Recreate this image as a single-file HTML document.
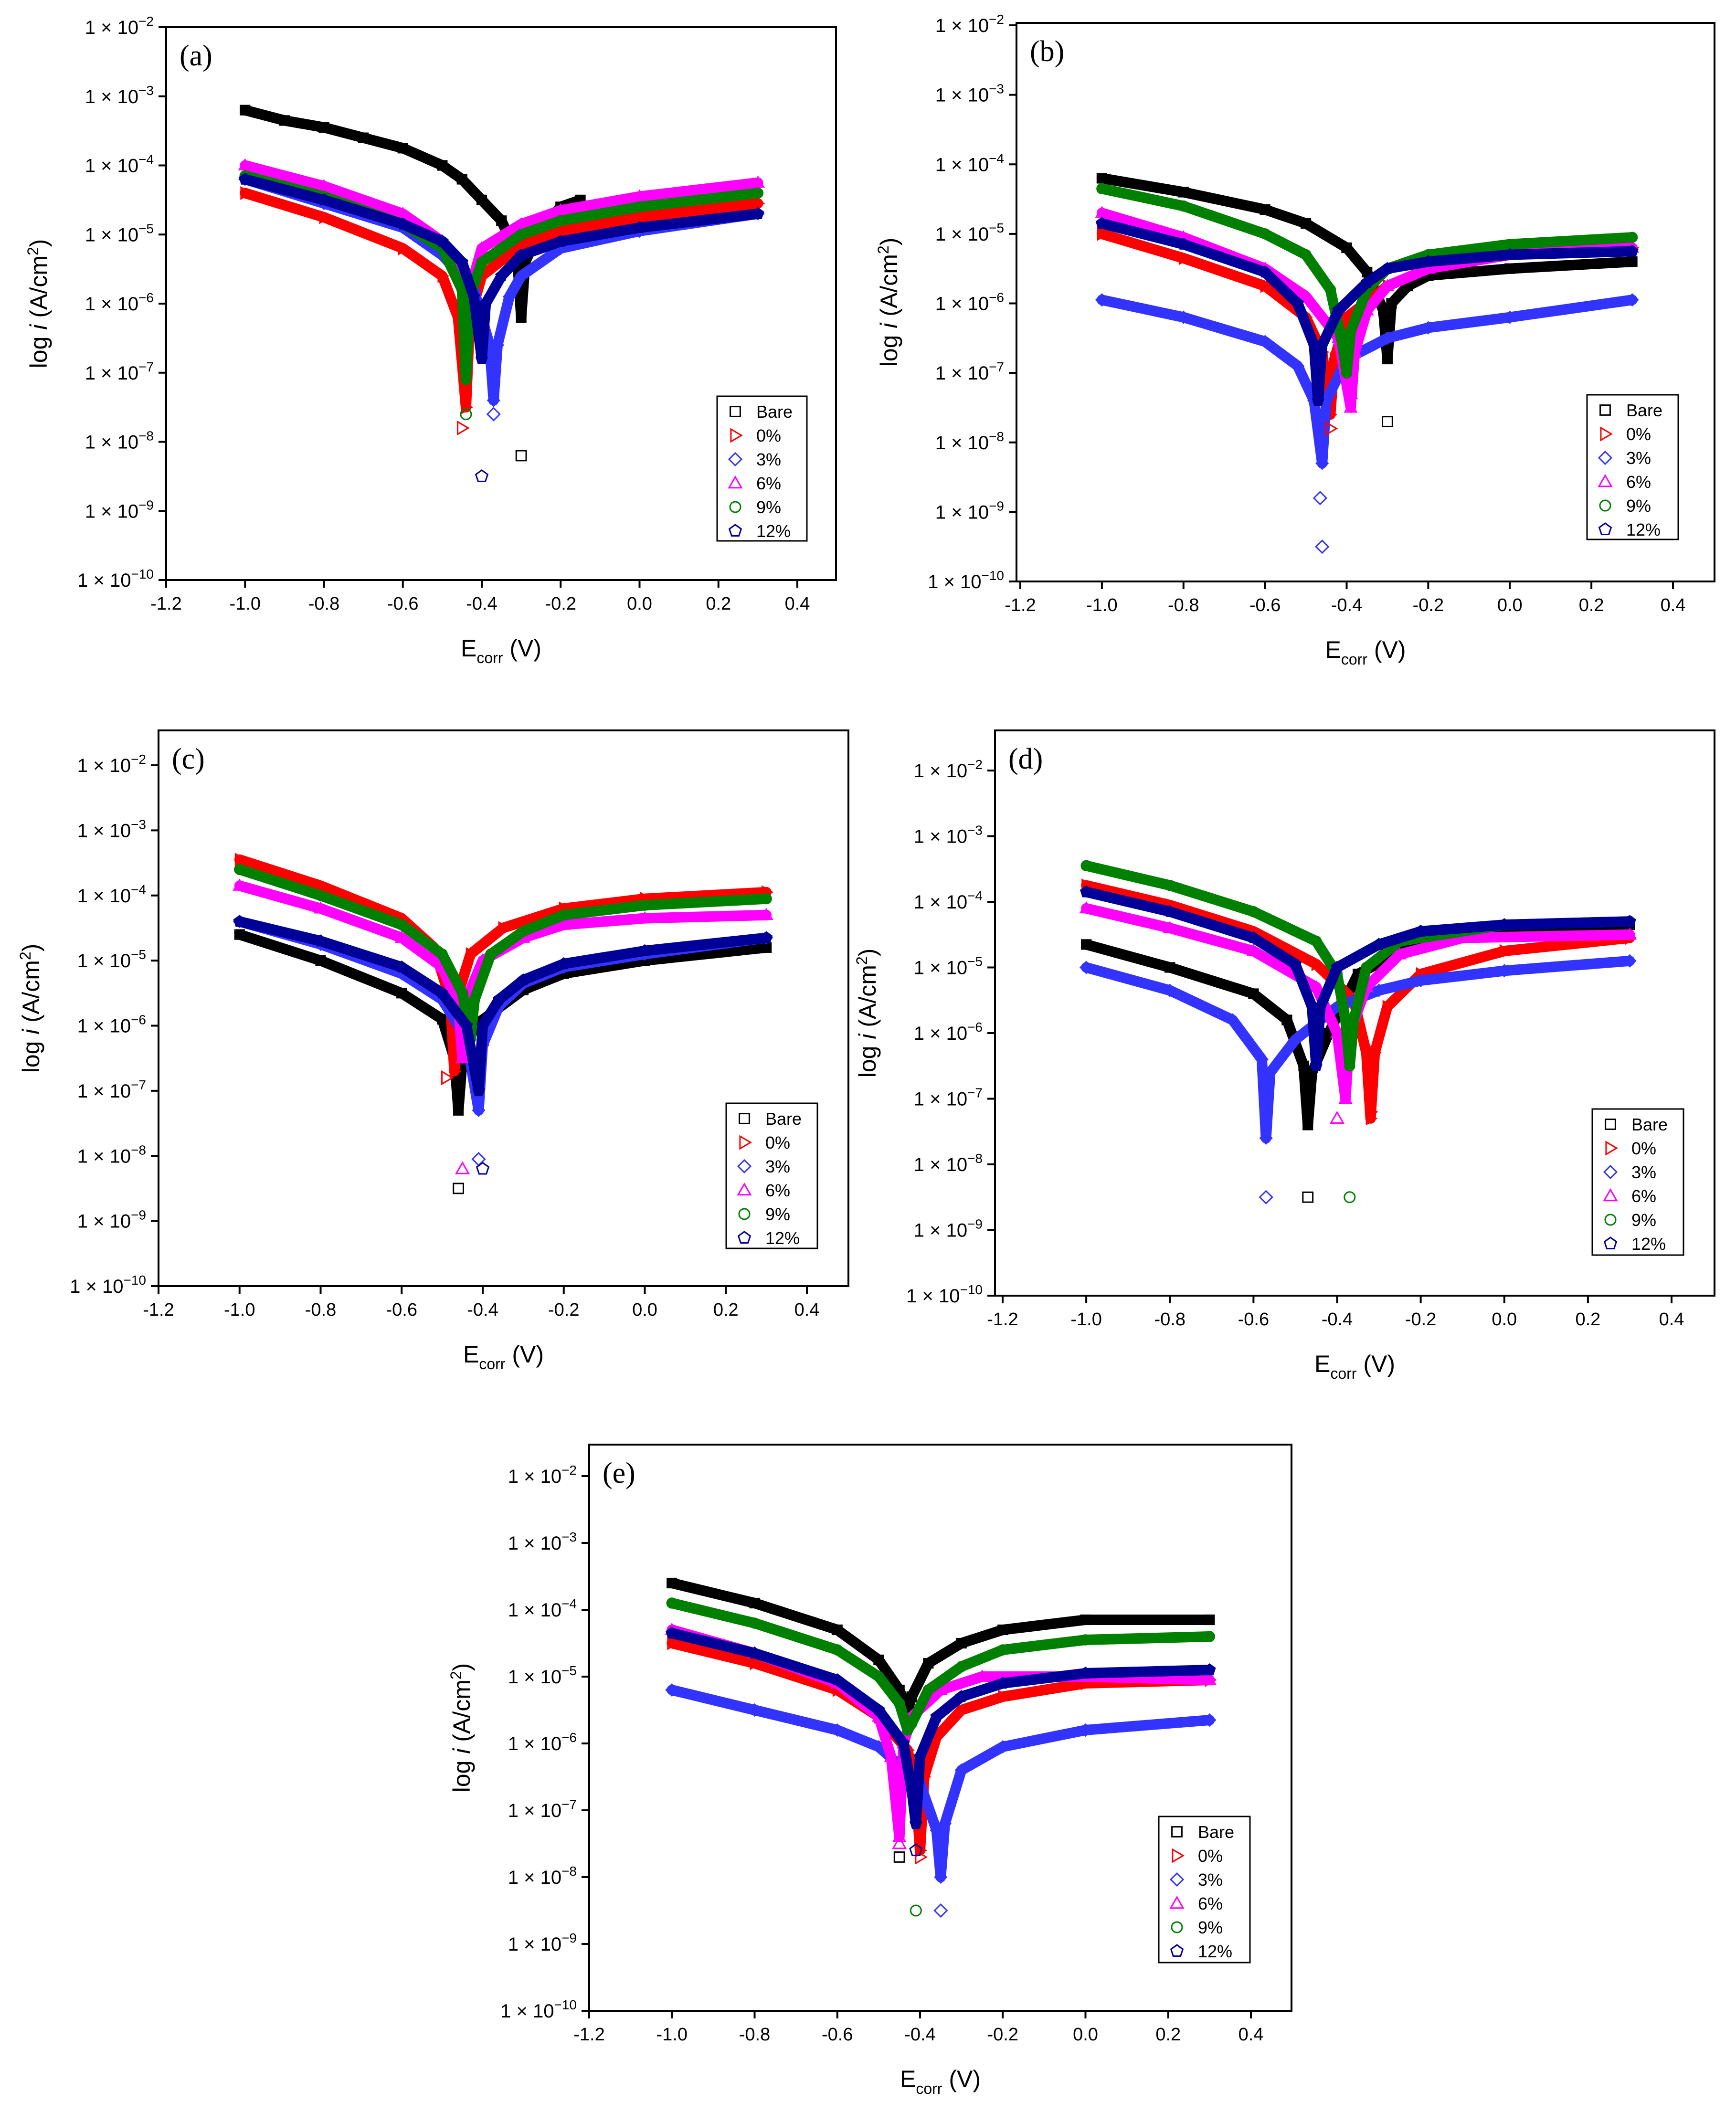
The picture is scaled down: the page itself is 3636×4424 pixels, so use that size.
<!DOCTYPE html>
<html><head><meta charset="utf-8"><style>
html,body{margin:0;padding:0;background:#fff}
svg{display:block}
</style></head><body>
<svg id="fig" width="3636" height="4424" viewBox="0 0 3636 4424" xmlns="http://www.w3.org/2000/svg"></svg>
<script>
// ---------- data (E in V, log10 i) ----------
const seriesNames = ["Bare","0%","3%","6%","9%","12%"];
const panelLabels = ["(a)","(b)","(c)","(d)","(e)"];
const xTickLabels = ["-1.2","-1.0","-0.8","-0.6","-0.4","-0.2","0.0","0.2","0.4"];
const xTickValues = [-1.2,-1.0,-0.8,-0.6,-0.4,-0.2,0.0,0.2,0.4];
const yTickExps = [-2,-3,-4,-5,-6,-7,-8,-9,-10];

const aBare=[[-1,-3.2],[-0.9,-3.35],[-0.8,-3.45],[-0.7,-3.6],[-0.6,-3.75],[-0.5,-4.0],[-0.45,-4.2],[-0.4,-4.5],[-0.35,-4.8],[-0.31,-5.3],[-0.3,-6.2],[-0.29,-5.4],[-0.25,-4.9],[-0.2,-4.6],[-0.15,-4.5]];
const a0=[[-1,-4.4],[-0.8,-4.75],[-0.6,-5.2],[-0.5,-5.6],[-0.46,-6.2],[-0.44,-7.5],[-0.43,-6.2],[-0.4,-5.6],[-0.3,-5.15],[-0.2,-4.95],[0,-4.75],[0.3,-4.55]];
const a3=[[-1,-4.2],[-0.8,-4.55],[-0.6,-4.9],[-0.5,-5.3],[-0.42,-5.8],[-0.38,-6.6],[-0.37,-7.4],[-0.36,-6.6],[-0.33,-5.9],[-0.3,-5.6],[-0.2,-5.2],[0,-4.95],[0.3,-4.7]];
const a6=[[-1,-4.0],[-0.8,-4.3],[-0.6,-4.7],[-0.5,-5.1],[-0.45,-5.7],[-0.44,-6.6],[-0.43,-5.8],[-0.4,-5.2],[-0.3,-4.85],[-0.2,-4.65],[0,-4.45],[0.3,-4.25]];
const a9=[[-1,-4.15],[-0.8,-4.45],[-0.6,-4.85],[-0.5,-5.2],[-0.45,-5.8],[-0.44,-7.1],[-0.43,-5.9],[-0.4,-5.4],[-0.3,-5.0],[-0.2,-4.8],[0,-4.6],[0.3,-4.4]];
const a12=[[-1,-4.2],[-0.8,-4.5],[-0.6,-4.85],[-0.5,-5.1],[-0.45,-5.4],[-0.42,-5.9],[-0.4,-6.8],[-0.39,-6.0],[-0.35,-5.6],[-0.3,-5.3],[-0.2,-5.1],[0,-4.9],[0.3,-4.7]];
const aOut=[[0,-0.3,-8.2],[1,-0.45,-7.8],[2,-0.37,-7.6],[4,-0.44,-7.6],[5,-0.4,-8.5]];

const bBare=[[-1,-4.2],[-0.8,-4.4],[-0.6,-4.65],[-0.5,-4.85],[-0.4,-5.2],[-0.35,-5.55],[-0.31,-6.1],[-0.3,-6.8],[-0.29,-6.0],[-0.25,-5.75],[-0.2,-5.6],[0,-5.5],[0.3,-5.4]];
const b0=[[-1,-5.0],[-0.8,-5.35],[-0.6,-5.75],[-0.5,-6.2],[-0.46,-6.7],[-0.44,-7.6],[-0.43,-6.8],[-0.4,-6.2],[-0.3,-5.75],[-0.2,-5.5],[0,-5.3],[0.3,-5.2]];
const b3=[[-1,-5.95],[-0.8,-6.2],[-0.6,-6.55],[-0.52,-6.9],[-0.48,-7.4],[-0.46,-8.3],[-0.45,-7.4],[-0.4,-6.8],[-0.3,-6.5],[-0.2,-6.35],[0,-6.2],[0.3,-5.95]];
const b6=[[-1,-4.7],[-0.8,-5.05],[-0.6,-5.5],[-0.5,-5.9],[-0.42,-6.5],[-0.39,-7.5],[-0.38,-6.7],[-0.35,-6.1],[-0.3,-5.75],[-0.2,-5.5],[0,-5.3],[0.3,-5.2]];
const b9=[[-1,-4.35],[-0.8,-4.6],[-0.6,-5.0],[-0.5,-5.3],[-0.44,-5.8],[-0.41,-6.6],[-0.40,-7.0],[-0.39,-6.4],[-0.35,-5.8],[-0.3,-5.5],[-0.2,-5.3],[0,-5.15],[0.3,-5.05]];
const b12=[[-1,-4.85],[-0.8,-5.15],[-0.6,-5.55],[-0.52,-6.0],[-0.48,-6.6],[-0.47,-7.4],[-0.46,-6.6],[-0.42,-6.1],[-0.35,-5.7],[-0.3,-5.5],[-0.2,-5.4],[0,-5.3],[0.3,-5.25]];
const bOut=[[0,-0.3,-7.7],[2,-0.46,-9.5],[2,-0.465,-8.8],[1,-0.44,-7.8],[3,-0.39,-7.3]];

const cBare=[[-1,-4.6],[-0.8,-5.0],[-0.6,-5.5],[-0.5,-5.9],[-0.47,-6.5],[-0.46,-7.3],[-0.45,-6.5],[-0.42,-6.0],[-0.3,-5.45],[-0.2,-5.2],[0,-5.0],[0.3,-4.8]];
const c0=[[-1,-3.45],[-0.8,-3.85],[-0.6,-4.35],[-0.52,-4.8],[-0.48,-5.6],[-0.47,-6.7],[-0.46,-5.5],[-0.43,-4.9],[-0.35,-4.5],[-0.2,-4.2],[0,-4.05],[0.3,-3.95]];
const c3=[[-1,-4.4],[-0.8,-4.75],[-0.6,-5.2],[-0.5,-5.6],[-0.44,-6.2],[-0.41,-7.3],[-0.40,-6.3],[-0.36,-5.7],[-0.3,-5.35],[-0.2,-5.1],[0,-4.9],[0.3,-4.65]];
const c6=[[-1,-3.85],[-0.8,-4.2],[-0.6,-4.65],[-0.5,-5.1],[-0.46,-5.7],[-0.45,-6.5],[-0.44,-5.6],[-0.4,-5.0],[-0.3,-4.65],[-0.2,-4.45],[0,-4.35],[0.3,-4.3]];
const c9=[[-1,-3.6],[-0.8,-4.0],[-0.6,-4.45],[-0.5,-4.9],[-0.45,-5.5],[-0.43,-6.2],[-0.42,-5.6],[-0.38,-4.9],[-0.3,-4.55],[-0.2,-4.3],[0,-4.15],[0.3,-4.05]];
const c12=[[-1,-4.4],[-0.8,-4.7],[-0.6,-5.1],[-0.5,-5.5],[-0.44,-6.0],[-0.41,-7.0],[-0.40,-6.0],[-0.36,-5.6],[-0.3,-5.3],[-0.2,-5.05],[0,-4.85],[0.3,-4.65]];
const cOut=[[0,-0.46,-8.5],[2,-0.41,-8.05],[3,-0.45,-8.2],[5,-0.40,-8.2],[1,-0.49,-6.8]];

const dBare=[[-1,-4.65],[-0.8,-5.0],[-0.6,-5.4],[-0.52,-5.8],[-0.48,-6.5],[-0.47,-7.4],[-0.46,-6.6],[-0.42,-6.0],[-0.35,-5.1],[-0.2,-4.6],[0,-4.4],[0.3,-4.35]];
const d0=[[-1,-3.75],[-0.8,-4.05],[-0.6,-4.45],[-0.45,-4.95],[-0.36,-5.5],[-0.33,-6.3],[-0.32,-7.3],[-0.31,-6.3],[-0.28,-5.6],[-0.2,-5.1],[0,-4.75],[0.3,-4.55]];
const d3=[[-1,-5.0],[-0.8,-5.35],[-0.65,-5.8],[-0.58,-6.4],[-0.57,-7.6],[-0.56,-6.6],[-0.5,-6.1],[-0.4,-5.6],[-0.3,-5.35],[-0.2,-5.2],[0,-5.05],[0.3,-4.9]];
const d6=[[-1,-4.1],[-0.8,-4.4],[-0.6,-4.75],[-0.45,-5.3],[-0.40,-6.0],[-0.38,-7.0],[-0.37,-6.0],[-0.33,-5.3],[-0.25,-4.8],[-0.1,-4.55],[0.3,-4.5]];
const d9=[[-1,-3.45],[-0.8,-3.75],[-0.6,-4.15],[-0.45,-4.6],[-0.4,-5.1],[-0.38,-5.8],[-0.37,-6.5],[-0.36,-5.8],[-0.33,-5.0],[-0.25,-4.6],[0,-4.35],[0.3,-4.3]];
const d12=[[-1,-3.85],[-0.8,-4.15],[-0.6,-4.55],[-0.5,-4.95],[-0.46,-5.6],[-0.45,-6.5],[-0.44,-5.6],[-0.4,-5.0],[-0.3,-4.65],[-0.2,-4.45],[0,-4.35],[0.3,-4.3]];
const dOut=[[0,-0.47,-8.5],[2,-0.57,-8.5],[4,-0.37,-8.5],[1,-0.32,-7.2],[3,-0.40,-7.3]];

const eBare=[[-1,-3.6],[-0.8,-3.9],[-0.6,-4.3],[-0.5,-4.75],[-0.45,-5.2],[-0.43,-5.5],[-0.42,-5.3],[-0.38,-4.8],[-0.3,-4.5],[-0.2,-4.3],[0,-4.15],[0.3,-4.15]];
const e0=[[-1,-4.5],[-0.8,-4.8],[-0.6,-5.2],[-0.5,-5.6],[-0.43,-6.1],[-0.41,-6.7],[-0.40,-7.6],[-0.39,-6.5],[-0.36,-5.9],[-0.3,-5.5],[-0.2,-5.3],[0,-5.1],[0.3,-5.05]];
const e3=[[-1,-5.2],[-0.8,-5.5],[-0.6,-5.8],[-0.5,-6.05],[-0.4,-6.6],[-0.36,-7.3],[-0.35,-8.0],[-0.34,-7.2],[-0.3,-6.4],[-0.2,-6.05],[0,-5.8],[0.3,-5.65]];
const e6=[[-1,-4.3],[-0.8,-4.65],[-0.6,-5.1],[-0.5,-5.6],[-0.47,-6.2],[-0.45,-7.4],[-0.44,-6.0],[-0.42,-5.6],[-0.35,-5.2],[-0.25,-5.0],[0,-5.0],[0.3,-5.05]];
const e9=[[-1,-3.9],[-0.8,-4.2],[-0.6,-4.6],[-0.5,-5.0],[-0.45,-5.4],[-0.43,-5.8],[-0.42,-5.7],[-0.38,-5.2],[-0.3,-4.85],[-0.2,-4.6],[0,-4.45],[0.3,-4.4]];
const e12=[[-1,-4.35],[-0.8,-4.65],[-0.6,-5.05],[-0.5,-5.5],[-0.44,-6.0],[-0.42,-6.7],[-0.41,-7.2],[-0.40,-6.2],[-0.36,-5.6],[-0.3,-5.3],[-0.2,-5.1],[0,-4.95],[0.3,-4.9]];
const eOut=[[0,-0.45,-7.7],[4,-0.41,-8.5],[2,-0.35,-8.5],[1,-0.40,-7.7],[5,-0.41,-7.6],[3,-0.45,-7.5]];

const panelSeries=[[aBare,a0,a3,a6,a9,a12],[bBare,b0,b3,b6,b9,b12],[cBare,c0,c3,c6,c9,c12],[dBare,d0,d3,d6,d9,d12],[eBare,e0,e3,e6,e9,e12]];
const panelOutliers=[aOut,bOut,cOut,dOut,eOut];

// ---------- layout ----------
const layout=[
 {f:[348,57,1751,1215],yT:57,yB:1215,xL:348,xR:1670,leg:[1502,830,188,303]},
 {f:[2129,48,3591,1218],yT:53,yB:1218,xL:2137,xR:3504,leg:[3324,827,191,303]},
 {f:[332,1530,1777,2694],yT:1603,yB:2694,xL:332,xR:1690,leg:[1521,2311,191,304]},
 {f:[2084,1530,3591,2714],yT:1614,yB:2714,xL:2100,xR:3501,leg:[3335,2323,191,306]},
 {f:[1234,3026,2705,4212],yT:3092,yB:4212,xL:1234,xR:2620,leg:[2427,3805,191,306]}
];
const colors=["#000000","#ff0000","#3333ff","#ff00ff","#008000","#000099"];
const NS="http://www.w3.org/2000/svg";
const svg=document.getElementById('fig');
function mk(tag,attrs,parent){const e=document.createElementNS(NS,tag);for(const k in attrs)e.setAttribute(k,attrs[k]);(parent||svg).appendChild(e);return e;}
function marker(g,k,x,y,r,col,fill){
 let e;
 if(k===0)e=mk('rect',{x:x-r*0.8,y:y-r*0.8,width:r*1.6,height:r*1.6},g);
 else if(k===1)e=mk('polygon',{points:`${x-r*0.7},${y-r} ${x+r},${y} ${x-r*0.7},${y+r}`},g);
 else if(k===2)e=mk('polygon',{points:`${x},${y-r} ${x+r},${y} ${x},${y+r} ${x-r},${y}`},g);
 else if(k===3)e=mk('polygon',{points:`${x},${y-r} ${x+r},${y+r*0.75} ${x-r},${y+r*0.75}`},g);
 else if(k===4)e=mk('circle',{cx:x,cy:y,r:r*0.85},g);
 else{let p=[];for(let i=0;i<5;i++){const a=-Math.PI/2+i*2*Math.PI/5;p.push((x+r*Math.cos(a)).toFixed(1)+','+(y+r*Math.sin(a)).toFixed(1));}e=mk('polygon',{points:p.join(' ')},g);}
 e.setAttribute('fill',fill||'none');e.setAttribute('stroke',col);e.setAttribute('stroke-width','3');
 return e;
}
const sym=["Bare","0%","3%","6%","9%","12%"];
layout.forEach((L,p)=>{
 const g=mk('g',{});
 
 
 const xs=v=>L.xL+(v+1.2)/1.6*(L.xR-L.xL);
 const ys=l=>L.yT+(-2-l)/8*(L.yB-L.yT);
 const [x0,y0,x1,y1]=L.f;
 panelSeries[p].forEach((s,k)=>{
  const sg=mk('g',{},g);
  
  
  const pts=s.map(d=>xs(d[0]).toFixed(1)+','+ys(d[1]).toFixed(1)).join(' ');
  const pl=mk('polyline',{points:pts,fill:'none',stroke:colors[k],'stroke-width':22,'stroke-linejoin':'round','stroke-linecap':'round'},sg);
  
  
  s.forEach(d=>{const m=marker(sg,k,xs(d[0]),ys(d[1]),12,colors[k],'none');
   
   });
 });
 panelOutliers[p].forEach(o=>{const m=marker(g,o[0],xs(o[1]),ys(o[2]),13,colors[o[0]],'none');
  
  });
 const fr=mk('rect',{x:x0,y:y0,width:x1-x0,height:y1-y0,fill:'none',stroke:'#000','stroke-width':4},g);
 
 
 yTickExps.forEach(ex=>{const y=ys(ex);
  mk('line',{x1:x0-16,y1:y,x2:x0,y2:y,stroke:'#000','stroke-width':4},g);
  const t=mk('text',{x:x0-26,y:y+14,'text-anchor':'end','font-family':'Liberation Sans, sans-serif','font-size':40,fill:'#000'},g);
  
  
  t.textContent='1 × 10';
  const sp=mk('tspan',{dy:-17,'font-size':28},t);sp.textContent=String(ex).replace('-','\u2212');
 });
 xTickValues.forEach((v,i)=>{const x=xs(v);
  mk('line',{x1:x,y1:y1,x2:x,y2:y1+16,stroke:'#000','stroke-width':4},g);
  const t=mk('text',{x:x,y:y1+62,'text-anchor':'middle','font-family':'Liberation Sans, sans-serif','font-size':38,fill:'#000'},g);
  
  
  t.textContent=xTickLabels[i];
 });
 const xt=mk('text',{x:(x0+x1)/2,y:y1+160,'text-anchor':'middle','font-family':'Liberation Sans, sans-serif','font-size':50,fill:'#000'},g);
 
 
 xt.appendChild(document.createTextNode('E'));
 const sb=mk('tspan',{dy:14,'font-size':32},xt);sb.textContent='corr';
 const sr=mk('tspan',{dy:-14,'font-size':50},xt);sr.textContent=' (V)';
 const cy=(y0+y1)/2, cx=x0-250;
 const yt=mk('text',{x:cx,y:cy,'text-anchor':'middle','font-family':'Liberation Sans, sans-serif','font-size':50,fill:'#000',transform:`rotate(-90 ${cx} ${cy})`},g);
 
 
 yt.appendChild(document.createTextNode('log '));
 const it=mk('tspan',{'font-style':'italic'},yt);it.textContent='i';
 yt.appendChild(document.createTextNode(' (A/cm'));
 const s2=mk('tspan',{dy:-18,'font-size':32},yt);s2.textContent='2';
 const s3=mk('tspan',{dy:18},yt);s3.textContent=')';
 const pl=mk('text',{x:x0+28,y:y0+80,'font-family':'Liberation Serif, serif','font-size':62,fill:'#000'},g);
 
 
 pl.textContent=panelLabels[p];
 const [lx,ly,lw,lh]=L.leg;
 const lg=mk('g',{},g);
 
 
 mk('rect',{x:lx,y:ly,width:lw,height:lh,fill:'#fff',stroke:'#000','stroke-width':3},lg);
 sym.forEach((nm,k)=>{const yy=ly+32+k*50;
  marker(lg,k,lx+38,yy,13,colors[k],'none');
  const t=mk('text',{x:lx+82,y:yy+13,'font-family':'Liberation Sans, sans-serif','font-size':36,fill:'#000'},lg);
  
  
  t.textContent=nm;
 });
});
</script>
</body></html>
